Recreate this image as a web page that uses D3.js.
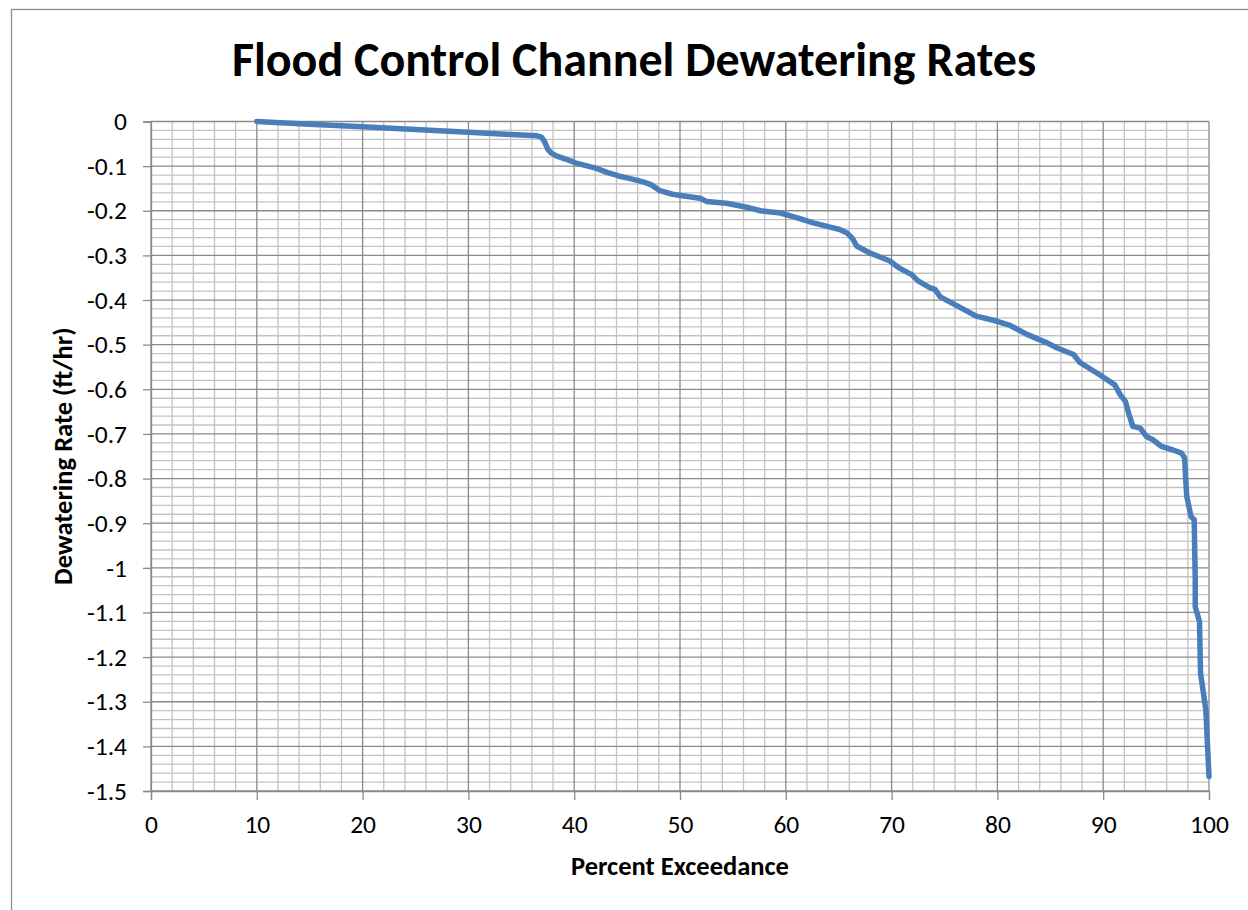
<!DOCTYPE html>
<html>
<head>
<meta charset="utf-8">
<script src="https://cdn.jsdelivr.net/npm/d3@7"></script>
<style>
  html, body { margin: 0; padding: 0; background: #fff; }
  svg { display: block; }
  text { font-family: Carlito, Calibri, Lato, "Open Sans", sans-serif; fill: #000; }
</style>
</head>
<body>
<script>
// Exceedance curve of channel dewatering rates
const exceedance = [
  10.0, 15, 20, 25, 30, 34, 36.5, 36.9, 37.2, 37.5, 37.8, 38.3, 39.4, 40.3,
  42.1, 43.1, 44.2, 45.3, 46.6, 47.3, 48.1, 49.3, 50.7, 51.9, 52.5, 54.4,
  56.3, 57.6, 59.5, 61.4, 62.6, 64.1, 65.1, 65.8, 66.3, 66.7, 67.9, 69.8,
  70.7, 71.9, 72.5, 73.6, 74.1, 74.6, 76.2, 78.0, 79.9, 81.2, 82.8, 84.7,
  85.6, 87.2, 87.8, 89.7, 91.1, 91.6, 92.1, 92.4, 92.8, 93.5, 94.1, 94.7,
  95.5, 96.6, 97.4, 97.7, 97.8, 97.9, 98.3, 98.6, 98.7, 98.7, 99.1, 99.2,
  99.7, 100.0
];
const rate = [
  0, -0.006, -0.012, -0.018, -0.024, -0.029, -0.032, -0.035, -0.045, -0.062,
  -0.070, -0.077, -0.086, -0.094, -0.105, -0.114, -0.122, -0.128, -0.136,
  -0.142, -0.155, -0.163, -0.168, -0.172, -0.179, -0.183, -0.192, -0.200,
  -0.205, -0.218, -0.227, -0.236, -0.242, -0.250, -0.262, -0.279, -0.294,
  -0.312, -0.328, -0.343, -0.357, -0.372, -0.376, -0.393, -0.413, -0.436,
  -0.447, -0.457, -0.477, -0.496, -0.507, -0.522, -0.540, -0.568, -0.590,
  -0.612, -0.627, -0.653, -0.683, -0.687, -0.706, -0.713, -0.728, -0.736,
  -0.743, -0.754, -0.803, -0.840, -0.885, -0.892, -1.027, -1.087, -1.120,
  -1.236, -1.318, -1.467
];
const xTicks = [0, 10, 20, 30, 40, 50, 60, 70, 80, 90, 100];
const yTicks = [0, -0.1, -0.2, -0.3, -0.4, -0.5, -0.6, -0.7, -0.8, -0.9, -1, -1.1, -1.2, -1.3, -1.4, -1.5];
const chartTitle = "Flood Control Channel Dewatering Rates";
const xTitle = "Percent Exceedance";
const yTitle = "Dewatering Rate (ft/hr)";

const W = 1248, H = 910;
const plot = { left: 151, right: 1209, top: 121.5, bottom: 791 };

const svg = d3.select("body").append("svg").attr("width", W).attr("height", H);

// outer chart frame
svg.append("rect")
  .attr("x", 11.5).attr("y", 9.5)
  .attr("width", 1400).attr("height", 1200)
  .attr("fill", "none").attr("stroke", "#8c8c8c").attr("stroke-width", 1.3);

const x = d3.scaleLinear().domain([0, 100]).range([plot.left, plot.right]);
const y = d3.scaleLinear().domain([0, -1.5]).range([plot.top, plot.bottom]);

// minor gridlines
const xMinor = d3.range(0, 101, 2).filter(v => v % 10 !== 0);
const yMinor = d3.range(0, 76).map(i => -i * 0.02).filter((v, i) => i % 5 !== 0);

const grid = svg.append("g");
grid.selectAll("line.xm").data(xMinor).join("line")
  .attr("x1", d => x(d)).attr("x2", d => x(d))
  .attr("y1", plot.top).attr("y2", plot.bottom)
  .attr("stroke", "#c3c3c3").attr("stroke-width", 1.3);
grid.selectAll("line.ym").data(yMinor).join("line")
  .attr("x1", plot.left).attr("x2", plot.right)
  .attr("y1", d => y(d)).attr("y2", d => y(d))
  .attr("stroke", "#c3c3c3").attr("stroke-width", 1.3);

// major gridlines
grid.selectAll("line.xM").data(xTicks).join("line")
  .attr("x1", d => x(d)).attr("x2", d => x(d))
  .attr("y1", plot.top).attr("y2", plot.bottom)
  .attr("stroke", "#8a8a8a").attr("stroke-width", 1.3);
grid.selectAll("line.yM").data(yTicks).join("line")
  .attr("x1", plot.left).attr("x2", plot.right)
  .attr("y1", d => y(d)).attr("y2", d => y(d))
  .attr("stroke", "#8a8a8a").attr("stroke-width", 1.3);

// axes
const fmt = d => String(+d.toFixed(1));
const xAxis = svg.append("g")
  .attr("transform", `translate(0,${plot.bottom})`)
  .call(d3.axisBottom(x).tickValues(xTicks).tickFormat(fmt).tickSize(9).tickPadding(15));
const yAxis = svg.append("g")
  .attr("transform", `translate(${plot.left},0)`)
  .call(d3.axisLeft(y).tickValues(yTicks).tickFormat(fmt).tickSize(8).tickPadding(16));

[xAxis, yAxis].forEach(g => {
  g.select(".domain").attr("stroke", "#8a8a8a").attr("stroke-width", 1.3);
  g.selectAll(".tick line").attr("stroke", "#8a8a8a").attr("stroke-width", 1.3);
  g.selectAll(".tick text")
    .style("font-family", "Carlito, Calibri, Lato, sans-serif")
    .style("font-size", "25.5px").attr("fill", "#000");
});

// curve
const pts = exceedance.map((v, i) => [v, rate[i]]);
svg.append("path")
  .datum(pts)
  .attr("fill", "none")
  .attr("stroke", "#4a7ebb")
  .attr("stroke-width", 5.5)
  .attr("stroke-linejoin", "round")
  .attr("stroke-linecap", "round")
  .attr("d", d3.line().x(d => x(d[0])).y(d => y(d[1])));

// titles
svg.append("text")
  .attr("x", 634).attr("y", 76)
  .attr("text-anchor", "middle")
  .style("font-size", "48px").style("font-weight", "bold")
  .text(chartTitle);

svg.append("text")
  .attr("x", (plot.left + plot.right) / 2).attr("y", 875)
  .attr("text-anchor", "middle")
  .style("font-size", "26.5px").style("font-weight", "bold")
  .text(xTitle);

svg.append("text")
  .attr("transform", `translate(72,${(plot.top + plot.bottom) / 2}) rotate(-90)`)
  .attr("text-anchor", "middle")
  .style("font-size", "26.5px").style("font-weight", "bold")
  .text(yTitle);
</script>
</body>
</html>
